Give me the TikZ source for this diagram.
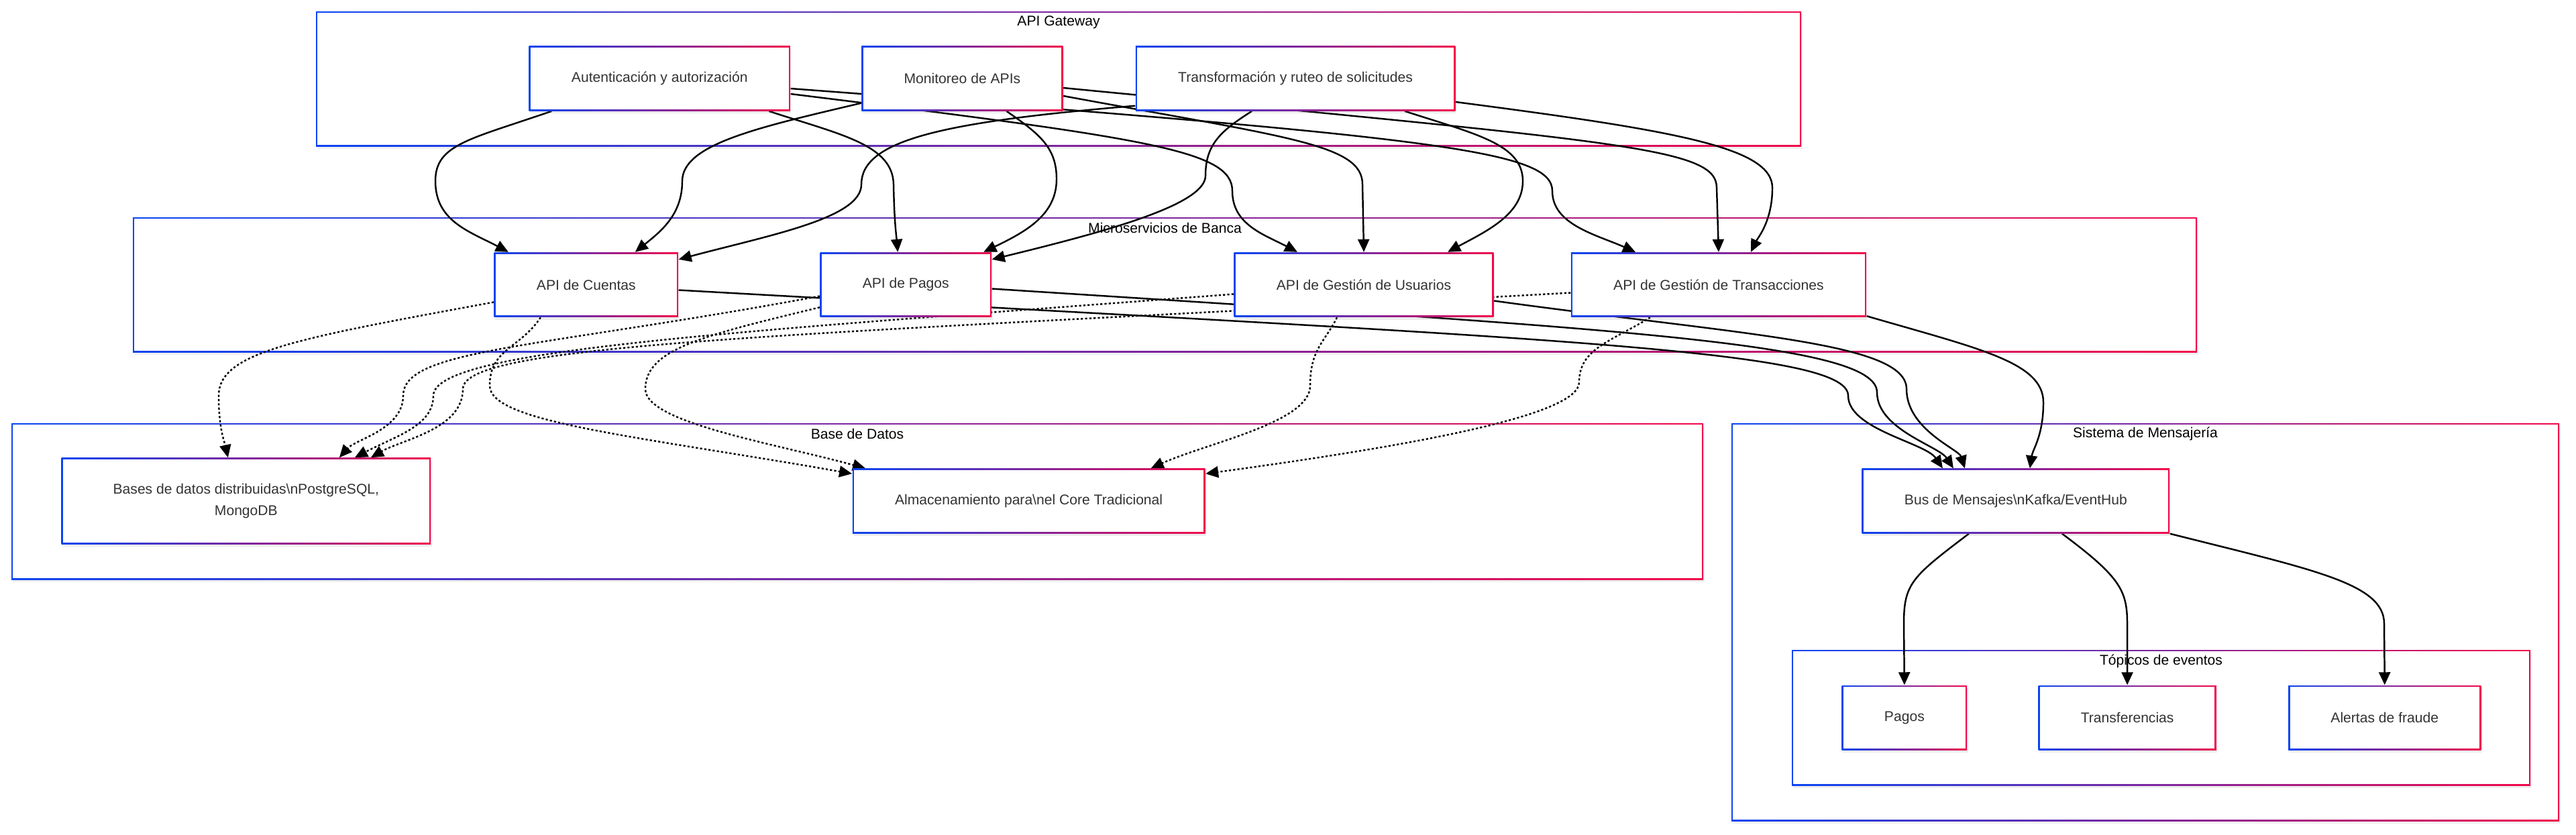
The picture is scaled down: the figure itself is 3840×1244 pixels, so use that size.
\documentclass[tikz,border=0pt]{standalone}
\usepackage{fontspec}
\setmainfont{Liberation Sans}
\usepackage{tikz}
\usetikzlibrary{arrows.meta,positioning,fit,backgrounds,calc,shadows}
\pgfdeclarelayer{edges}
\pgfsetlayers{background,edges,main}
\definecolor{gblue}{HTML}{0A44F2}
\definecolor{gred}{HTML}{F2064A}
\definecolor{ink}{HTML}{333333}

\begin{document}
\begin{tikzpicture}[
  x=0.01cm, y=-0.01cm,
  gborder/.style={left color=gblue, right color=gred,
    path picture={\fill[white] ([shift={(0.65pt,-0.65pt)}]path picture bounding box.north west)
      rectangle ([shift={(-0.65pt,0.65pt)}]path picture bounding box.south east);}},
  svc/.style={gborder, drop shadow={opacity=0.15, shadow xshift=0.015cm, shadow yshift=-0.04cm},
              minimum height=0.96cm, inner xsep=0.632cm, align=center,
              font=\fontsize{6pt}{9.1pt}\selectfont, text=ink},
  cluster/.style={gborder, inner sep=0pt,
              drop shadow={opacity=0.12, shadow xshift=0.015cm, shadow yshift=-0.04cm}},
  gtitle/.style={font=\fontsize{6pt}{9pt}\selectfont, text=black},
  arr/.style={-{Triangle[length=0.19cm,width=0.17cm]}, line width=0.7pt},
  dotarr/.style={arr, dash pattern=on 0.9pt off 0.9pt}
]
\useasboundingbox (0,0) rectangle (3840,1244);

\begin{scope}[on background layer]
\node[cluster, fit={(471,17) (2685,218)}] (gw) {};
\node[cluster, fit={(198,324) (3275,525)}] (ms) {};
\node[cluster, fit={(17,631) (2539,864)}] (db) {};
\node[cluster, fit={(2581,631) (3815,1224)}] (msg) {};
\node[cluster, fit={(2671,969) (3772,1171)}] (topics) {};
\end{scope}

\node[gtitle] (gwt) at ($(gw.north)+(0,17)$) {API Gateway};
\node[gtitle] (mst) at ($(ms.north)+(0,17)$) {Microservicios de Banca};
\node[gtitle] (dbt) at ($(db.north)+(0,17)$) {Base de Datos};
\node[gtitle] (msgt) at ($(msg.north)+(0,17)$) {Sistema de Mensajería};
\node[gtitle] (topicst) at ($(topics.north)+(0,18)$) {Tópicos de eventos};

\node[svc, anchor=west] (auth) at (788,117) {Autenticación y autorización};
\node[svc, right=1.05cm of auth] (mon) {Monitoreo de APIs};
\node[svc, right=1.07cm of mon] (trans) {Transformación y ruteo de solicitudes};

\node[svc, anchor=west] (cuentas) at (736,424.5) {API de Cuentas};
\node[svc, right=2.1cm of cuentas] (pagos) {API de Pagos};
\node[svc, right=3.6cm of pagos] (usuarios) {API de Gestión de Usuarios};
\node[svc, right=1.14cm of usuarios] (transacc) {API de Gestión de Transacciones};

\node[svc, anchor=west, minimum width=5.5cm, minimum height=1.28cm] (bases) at (91,747)
  {Bases de datos distribuidas\textbackslash nPostgreSQL,\\MongoDB};
\node[svc, right=6.27cm of bases] (alm) {Almacenamiento para\textbackslash nel Core Tradicional};

\node[svc, anchor=west] (bus) at (2775,747) {Bus de Mensajes\textbackslash nKafka/EventHub};
\node[svc, anchor=west] (tpagos) at (2745,1070) {Pagos};
\node[svc, right=1.05cm of tpagos] (ttransf) {Transferencias};
\node[svc, right=1.06cm of ttransf] (talert) {Alertas de fraude};

\begin{pgfonlayer}{edges}
% gateway -> microservicios
\draw[arr] ($(auth.south)+(-161,0)$) .. controls (700,208) and (649,215) .. (649,270)
  .. controls (649,330) and (700,345) .. ($(cuentas.north)+(-116,0)$);
\draw[arr] ($(auth.south)+(163,0)$) .. controls (1250,200) and (1331,215) .. (1332,275)
  .. controls (1333,330) and (1336,350) .. ($(pagos.north)+(-12,0)$);
\draw[arr] ($(auth.east)+(0,23)$) .. controls (1720,207) and (1837,225) .. (1837,285)
  .. controls (1837,335) and (1885,350) .. ($(usuarios.north)+(-99,0)$);
\draw[arr] ($(auth.east)+(0,15)$) .. controls (2150,205) and (2314,225) .. (2314,285)
  .. controls (2314,335) and (2380,350) .. ($(transacc.north)+(-124,0)$);
\draw[arr] ($(mon.south west)+(0,-12)$) .. controls (1130,190) and (1017,215) .. (1017,270)
  .. controls (1017,320) and (985,345) .. ($(cuentas.north)+(73,0)$);
\draw[arr] ($(mon.south)+(66,0)$) .. controls (1550,200) and (1575,220) .. (1575,267)
  .. controls (1575,320) and (1530,345) .. ($(pagos.north)+(116,0)$);
\draw[arr] ($(mon.east)+(0,26)$) .. controls (1920,205) and (2031,215) .. (2031,275) -- (usuarios.north);
\draw[arr] ($(mon.east)+(0,14)$) .. controls (2420,212) and (2559,220) .. (2559,280) -- (transacc.north);
\draw[arr] ($(trans.south west)+(0,-8)$) .. controls (1400,182) and (1284,210) .. (1284,275)
  .. controls (1284,325) and (1150,350) .. ($(cuentas.north east)+(0,11)$);
\draw[arr] ($(trans.south)+(-65,0)$) .. controls (1820,195) and (1797,215) .. (1797,262)
  .. controls (1797,305) and (1650,345) .. ($(pagos.north east)+(0,11)$);
\draw[arr] ($(trans.south)+(163,0)$) .. controls (2200,200) and (2270,215) .. (2270,270)
  .. controls (2270,320) and (2215,345) .. ($(usuarios.north)+(125,0)$);
\draw[arr] ($(trans.east)+(0,35)$) .. controls (2500,195) and (2642,220) .. (2642,280)
  .. controls (2642,330) and (2620,355) .. ($(transacc.north)+(48,0)$);
% microservicios -> base de datos
\draw[dotarr] ($(cuentas.west)+(0,26)$) .. controls (440,505) and (326,525) .. (326,590)
  .. controls (326,640) and (335,660) .. ($(bases.north)+(-27,0)$);
\draw[dotarr] ($(cuentas.south)+(-68,0)$) .. controls (775,520) and (730,520) .. (730,575)
  .. controls (730,630) and (950,650) .. ($(alm.north west)+(0,8)$);
\draw[dotarr] ($(pagos.west)+(0,17)$) .. controls (800,520) and (601,520) .. (601,590)
  .. controls (601,640) and (530,655) .. ($(bases.north)+(139,0)$);
\draw[dotarr] ($(pagos.south west)+(0,-15)$) .. controls (1050,500) and (962,520) .. (962,580)
  .. controls (962,630) and (1150,660) .. ($(alm.north west)+(20,0)$);
\draw[dotarr] ($(usuarios.west)+(0,14)$) .. controls (1100,495) and (646,520) .. (646,590)
  .. controls (646,635) and (590,650) .. ($(bases.north)+(162,0)$);
\draw[dotarr] ($(usuarios.south)+(-40,0)$) .. controls (1975,510) and (1953,520) .. (1953,575)
  .. controls (1953,630) and (1800,660) .. ($(alm.north)+(182,0)$);
\draw[dotarr] ($(transacc.west)+(0,12)$) .. controls (1200,500) and (690,510) .. (690,580)
  .. controls (690,640) and (600,655) .. ($(bases.north)+(186,0)$);
\draw[dotarr] ($(transacc.south)+(-102,0)$) .. controls (2400,510) and (2354,520) .. (2354,570)
  .. controls (2354,620) and (2100,665) .. ($(alm.north east)+(0,8)$);
% microservicios -> bus
\draw[arr] ($(cuentas.east)+(0,8)$) .. controls (2300,505) and (2755,520) .. (2755,590)
  .. controls (2755,640) and (2870,660) .. ($(bus.north)+(-109,0)$);
\draw[arr] ($(pagos.east)+(0,6)$) .. controls (2400,490) and (2798,510) .. (2798,585)
  .. controls (2798,640) and (2890,665) .. ($(bus.north)+(-93,0)$);
\draw[arr] ($(usuarios.east)+(0,24)$) .. controls (2600,500) and (2842,510) .. (2842,580)
  .. controls (2842,640) and (2920,670) .. ($(bus.north)+(-76,0)$);
\draw[arr] ($(transacc.south east)+(0,-2)$) .. controls (2950,520) and (3046,540) .. (3046,600)
  .. controls (3046,650) and (3030,670) .. ($(bus.north)+(21,0)$);
% bus -> topicos
\draw[arr] ($(bus.south)+(-70,0)$) .. controls (2850,860) and (2838,870) .. (2838,930) -- (tpagos.north);
\draw[arr] ($(bus.south)+(69,0)$) .. controls (3160,860) and (3171,880) .. (3171,930) -- (ttransf.north);
\draw[arr] (bus.south east) .. controls (3450,850) and (3554,870) .. (3554,930) -- (talert.north);
\end{pgfonlayer}
\end{tikzpicture}
\end{document}
